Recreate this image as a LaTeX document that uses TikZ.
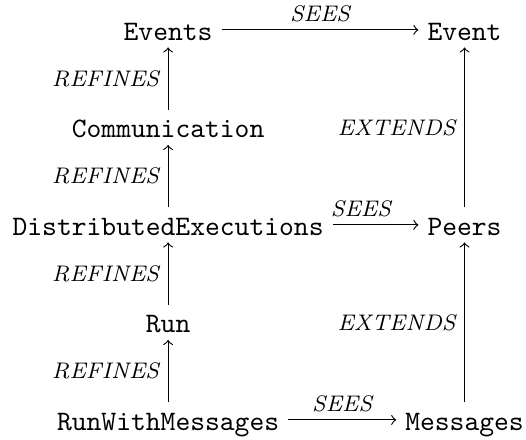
\documentclass[tikz,border=0pt]{standalone}
\begin{document}
\begin{tikzpicture}[
    mach/.style={font=\ttfamily, inner xsep=3pt, inner ysep=2.4pt, text height=7.2pt, text depth=0pt},
    rel/.style={font=\footnotesize\itshape, inner xsep=3pt, inner ysep=2.5pt}
  ]
  \useasboundingbox (0, 0) rectangle (186.5pt, -155.7pt);

  \def\xl{59.6pt}
  \def\xr{164.7pt}
  \def\dy{34.57pt}

  \node[mach] (events) at (\xl, -10.6pt) {Events};
  \node[mach] (event) at (\xr, -10.6pt) {Event};
  \node[mach] (comm) at (\xl, -10.6pt-\dy) {Communication};
  \node[mach] (distexec) at (\xl, -10.6pt-2*\dy) {DistributedExecutions};
  \node[mach] (peers) at (\xr, -10.6pt-2*\dy) {Peers};
  \node[mach] (run) at (\xl, -10.6pt-3*\dy) {Run};
  \node[mach] (runmsg) at (\xl, -10.6pt-4*\dy) {RunWithMessages};
  \node[mach] (msgs) at (\xr, -10.6pt-4*\dy) {Messages};

  \draw[->] (events) -- node[above, rel] {SEES} (event);
  \draw[->] (distexec) -- node[above, rel, pos=0.33] {SEES} (peers);
  \draw[->] (runmsg) -- node[above, rel] {SEES} (msgs);

  \draw[->] (comm) -- node[left, rel] {REFINES} (events);
  \draw[->] (distexec) -- node[left, rel] {REFINES} (comm);
  \draw[->] (run) -- node[left, rel] {REFINES} (distexec);
  \draw[->] (runmsg) -- node[left, rel] {REFINES} (run);

  \draw[->] (peers) -- node[left, rel] {EXTENDS} (event);
  \draw[->] (msgs) -- node[left, rel] {EXTENDS} (peers);
\end{tikzpicture}
\end{document}
